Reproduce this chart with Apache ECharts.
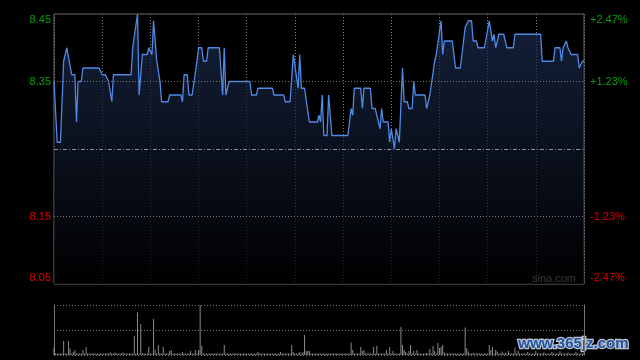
<!DOCTYPE html>
<html>
<head>
<meta charset="utf-8">
<script src="https://cdn.jsdelivr.net/npm/echarts@6/dist/echarts.min.js"></script>
<style>
html,body{margin:0;padding:0;background:#000;}
#chart{width:640px;height:360px;}
</style>
</head>
<body>
<div id="chart"></div>
<script>
// Price line breakpoints (minute index from open, price)
var priceMinutes = [0,2,4,6,7,8,9,11,13,14,15,17,18,28,30,32,34,36,37,48,49,50,52,53,55,58,59,60,61,62,63,64,66,67,71,72,79,80,81,83,84,86,89,90,92,93,95,96,103,105,106,107,108,109,122,123,126,127,136,137,143,144,147,149,150,152,153,154,156,159,164,165,166,167,168,170,171,172,173,183,185,186,187,191,192,193,197,198,200,201,202,203,204,205,208,209,210,211,212,213,214,215,217,218,220,221,223,224,225,231,232,233,234,235,237,238,241,242,243,248,250,253,256,257,258,260,261,263,264,268,271,272,273,274,275,276,277,280,281,282,286,287,303,304,311,312,315,316,317,319,320,322,326,327,328,329,330];
var priceValues  = [8.35,8.26,8.26,8.38,8.38,8.40,8.40,8.36,8.36,8.29,8.35,8.35,8.37,8.37,8.36,8.36,8.35,8.32,8.36,8.36,8.40,8.40,8.45,8.33,8.39,8.39,8.40,8.40,8.39,8.44,8.44,8.38,8.35,8.32,8.32,8.33,8.33,8.32,8.36,8.36,8.33,8.33,8.38,8.40,8.40,8.38,8.38,8.40,8.40,8.33,8.40,8.33,8.33,8.35,8.35,8.33,8.33,8.34,8.34,8.33,8.33,8.32,8.32,8.39,8.39,8.34,8.39,8.34,8.34,8.29,8.29,8.30,8.29,8.33,8.27,8.27,8.33,8.33,8.27,8.27,8.31,8.30,8.34,8.34,8.31,8.34,8.34,8.31,8.31,8.30,8.30,8.28,8.31,8.29,8.29,8.26,8.28,8.28,8.25,8.28,8.28,8.26,8.37,8.32,8.32,8.31,8.31,8.35,8.33,8.33,8.31,8.31,8.33,8.33,8.38,8.39,8.44,8.39,8.41,8.41,8.37,8.37,8.43,8.43,8.44,8.44,8.41,8.41,8.40,8.40,8.44,8.44,8.41,8.42,8.40,8.40,8.42,8.42,8.41,8.40,8.40,8.42,8.42,8.38,8.38,8.40,8.40,8.38,8.40,8.41,8.40,8.39,8.39,8.37,8.37,8.38,8.38];
// Per-minute volume (relative units, max = 100)
var volumes = [
15,3,3,3,3,3,28,3,3,28,
13,3,6,10,3,3,3,3,10,3,
16,3,3,3,3,3,3,3,3,3,
3,3,3,3,3,5,3,3,5,3,
3,3,3,5,3,3,3,3,3,3,
38,3,85,3,62,4,3,3,3,16,
3,3,72,10,3,20,3,3,16,3,
3,3,8,10,3,3,3,3,3,3,
6,3,3,3,3,8,3,3,10,3,
10,100,18,3,3,3,3,3,3,3,
3,3,3,3,3,3,20,3,3,3,
3,3,3,3,3,3,3,3,3,3,
3,3,3,3,3,3,3,6,3,3,
3,3,3,3,3,3,3,3,3,3,
3,6,3,3,3,3,3,3,20,6,
3,3,3,6,3,6,40,8,8,8,
3,3,3,3,3,3,3,3,3,3,
3,3,3,3,3,3,3,3,3,3,
3,3,3,3,3,25,10,3,3,3,
3,16,8,10,3,3,3,3,3,16,
3,18,3,3,3,3,3,10,3,16,
3,8,3,3,3,3,56,20,10,6,
3,8,20,3,8,3,10,3,3,3,
3,3,4,3,12,3,18,8,3,24,
14,16,20,5,3,3,3,3,3,3,
3,3,3,3,3,3,55,14,7,3,
3,4,3,3,3,3,3,3,3,3,
3,20,10,16,3,10,7,3,3,7,
3,5,3,8,3,3,3,15,3,9,
3,3,3,3,3,6,3,3,3,3,
8,3,3,3,3,5,3,3,3,3,
6,3,3,3,3,7,3,3,3,3,
5,3,3,3,3,6,3,3,3,3,
4];
var priceTicks = ['8.45','8.35','8.15','8.05'];
var pctLabels = ['+2.47%','+1.23%','-1.23%','-2.47%'];
var prevClose = 8.25;

var priceData = priceMinutes.map(function(m,i){ return [m, priceValues[i]]; });
var volData = volumes.map(function(v,i){ return [i, v]; });

function styleFor(idx, k){
  var up = parseFloat(k) > prevClose;
  return (idx === 0 ? 't' : idx === priceTicks.length-1 ? 'b' : 'm') + (up ? 'G' : 'R');
}
function leftFmt(v){
  var k = v.toFixed(2);
  var idx = priceTicks.indexOf(k);
  if (idx < 0) return '';
  return '{' + styleFor(idx, k) + '|' + k + '}';
}
function rightFmt(v){
  var k = v.toFixed(2);
  var idx = priceTicks.indexOf(k);
  if (idx < 0) return '';
  return '{' + styleFor(idx, k) + '|' + pctLabels[idx] + '}';
}
var G = '#0a9e0a', R = '#e00000';
function richSet(){
  var base = {fontSize: 11, fontFamily: 'Liberation Sans, Arial, sans-serif'};
  function mk(c, pad){ return Object.assign({color: c, padding: pad}, base); }
  return {
    tG: mk(G,[11,0,0,0]), tR: mk(R,[11,0,0,0]),
    mG: mk(G,[0,0,0,0]), mR: mk(R,[0,0,0,0]),
    bG: mk(G,[0,0,13,0]), bR: mk(R,[0,0,13,0])
  };
}

var chart = echarts.init(document.getElementById('chart'), null, {renderer:'canvas'});
chart.setOption({
  backgroundColor: '#000',
  animation: false,
  grid: [
    {left: 54, top: 14, width: 530, height: 270, show: true, borderColor: '#6a6a6a', borderWidth: 1, backgroundColor: 'transparent'},
    {left: 54, top: 305, width: 530, height: 50, show: false}
  ],
  xAxis: [
    {type: 'value', gridIndex: 0, min: 0, max: 330, interval: 30,
     axisLine: {show: false}, axisTick: {show: false}, axisLabel: {show: false},
     splitLine: {show: true, lineStyle: {color: '#777', type: [1,2], width: 1}}},
    {type: 'value', gridIndex: 1, min: 0, max: 330, interval: 30,
     axisLine: {show: false}, axisTick: {show: false}, axisLabel: {show: false},
     splitLine: {show: false}}
  ],
  yAxis: [
    {type: 'value', gridIndex: 0, min: 8.05, max: 8.45, interval: 0.05, position: 'left',
     axisLine: {show: false}, axisTick: {show: false}, splitLine: {show: false},
     axisLabel: {show: true, margin: 3, formatter: leftFmt, rich: richSet()}},
    {type: 'value', gridIndex: 0, min: 8.05, max: 8.45, interval: 0.05, position: 'right',
     axisLine: {show: false}, axisTick: {show: false}, splitLine: {show: false},
     axisLabel: {show: true, margin: 6, formatter: rightFmt, rich: richSet()}},
    {type: 'value', gridIndex: 1, min: 0, max: 100, interval: 50, position: 'left',
     axisLine: {show: true, lineStyle: {color: '#777'}}, axisTick: {show: false}, axisLabel: {show: false},
     splitLine: {show: true, lineStyle: {color: '#777', type: [1,2]}}},
    {type: 'value', gridIndex: 1, min: 0, max: 100, interval: 50, position: 'right',
     axisLine: {show: true, lineStyle: {color: '#777'}}, axisTick: {show: false}, axisLabel: {show: false},
     splitLine: {show: false}}
  ],
  series: [
    {type: 'line', xAxisIndex: 0, yAxisIndex: 0, data: priceData, showSymbol: false,
     lineStyle: {color: '#5089e6', width: 1.3},
     areaStyle: {origin: 'start', color: new echarts.graphic.LinearGradient(0,0,0,1,[
       {offset: 0, color: 'rgba(30,48,86,0.95)'},
       {offset: 1, color: 'rgba(0,0,0,1)'}
     ])},
     markLine: {silent: true, symbol: 'none', label: {show: false}, animation: false,
       data: [
         {yAxis: 8.35, lineStyle: {color: '#777', type: [1,2], width: 1}},
         {yAxis: 8.15, lineStyle: {color: '#777', type: [1,2], width: 1}},
         {yAxis: prevClose, lineStyle: {color: '#8c93a0', type: [4,2,1,2], width: 1}}
       ]},
     z: 3},
    {type: 'bar', xAxisIndex: 1, yAxisIndex: 2, data: volData, barWidth: 1,
     itemStyle: {color: '#8a8a8a'}}
  ],
  graphic: [
    {type: 'text', left: 532, top: 273, silent: true,
     style: {text: 'sina.com', fill: '#b0b0b0', font: '11px "Liberation Sans", Arial, sans-serif'}},
    {type: 'text', left: 517, top: 335, silent: true,
     style: {text: 'www.365jz.com', fill: '#22539c', stroke: '#b9c3d2', lineWidth: 2.5,
       font: 'bold 15px "Liberation Sans", Arial, sans-serif'}}
  ]
});
</script>
</body>
</html>
